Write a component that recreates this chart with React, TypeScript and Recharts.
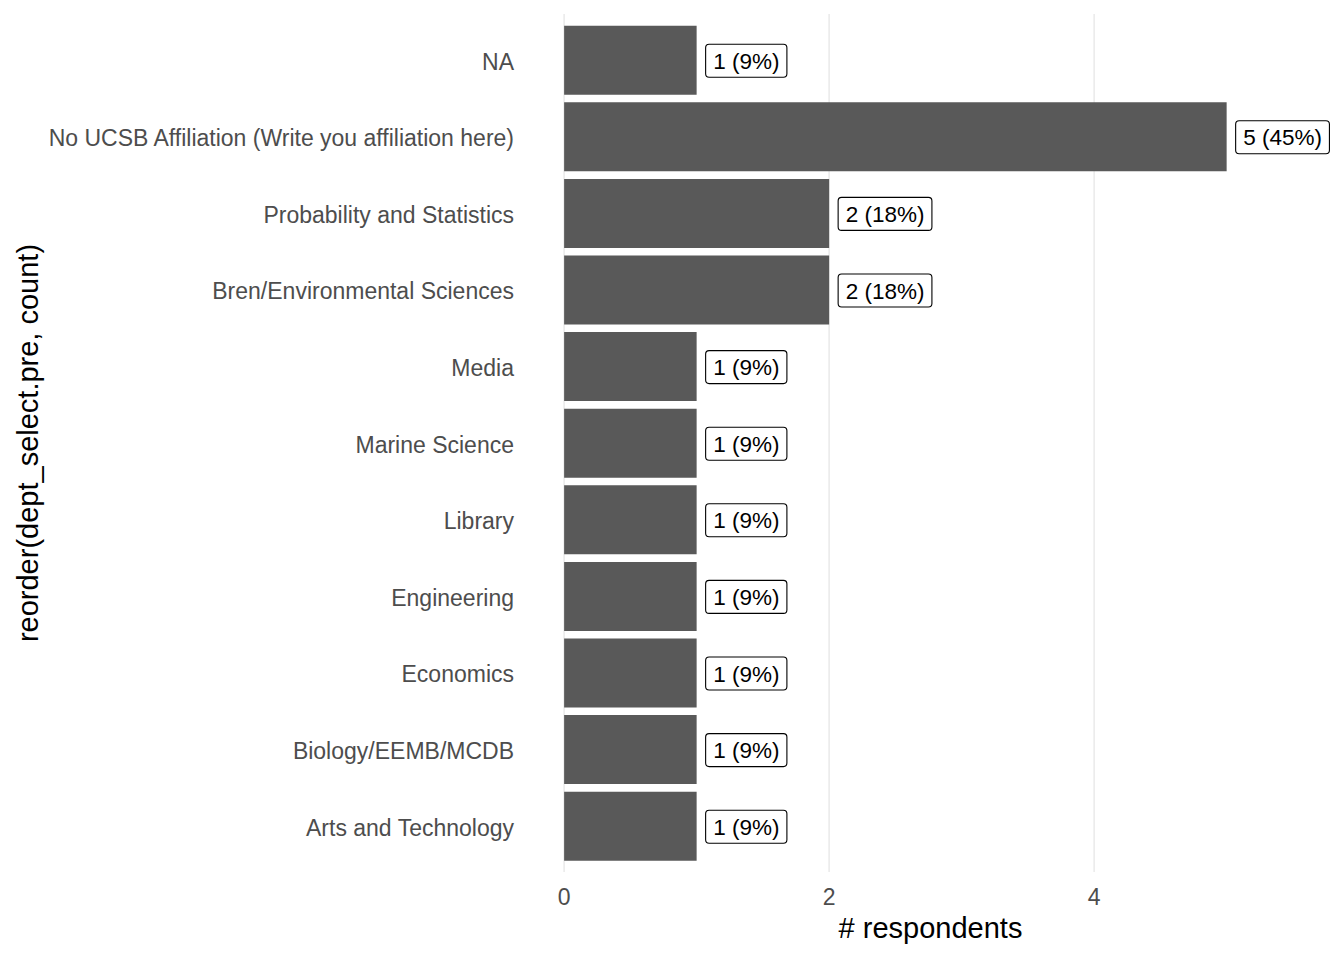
import React from 'react';
import { BarChart, Bar, XAxis, YAxis, CartesianGrid, LabelList } from 'recharts';

const categories = [
  'NA',
  'No UCSB Affiliation (Write you affiliation here)',
  'Probability and Statistics',
  'Bren/Environmental Sciences',
  'Media',
  'Marine Science',
  'Library',
  'Engineering',
  'Economics',
  'Biology/EEMB/MCDB',
  'Arts and Technology',
];
const counts = [1, 5, 2, 2, 1, 1, 1, 1, 1, 1, 1];
const percents = [9, 45, 18, 18, 9, 9, 9, 9, 9, 9, 9];
const xTicks = [0, 2, 4];
const X_DOMAIN: [number, number] = [-0.25, 5.78];

const data = categories.map((dept, i) => ({
  dept,
  count: counts[i],
  label: `${counts[i]} (${percents[i]}%)`,
}));

const FONT = "'Liberation Sans', Arial, Helvetica, sans-serif";
const W = 1344;
const H = 960;
const MARGIN = { top: 14, right: 14, left: 0, bottom: 0 };
const Y_AXIS_W = 531;
const X_AXIS_H = 88;
const LABEL_FONT = 22.5;

const CLIP = {
  x: MARGIN.left + Y_AXIS_W,
  y: MARGIN.top,
  width: W - MARGIN.left - MARGIN.right - Y_AXIS_W,
  height: H - MARGIN.top - MARGIN.bottom - X_AXIS_H,
};

let ctx: CanvasRenderingContext2D | null = null;
function measure(s: string): number {
  try {
    if (!ctx) {
      const c = document.createElement('canvas');
      ctx = c.getContext('2d');
    }
    if (ctx) {
      ctx.font = `${LABEL_FONT}px ${FONT}`;
      return ctx.measureText(s).width;
    }
  } catch (e) {
    // ignore
  }
  return s.length * LABEL_FONT * 0.5;
}

const gridX = (args: any) => {
  const xAxis = args && args.xAxis;
  const offset = (args && args.offset) || CLIP;
  return xTicks.map((t) => {
    if (xAxis && typeof xAxis.scale === 'function') {
      const v = xAxis.scale(t);
      if (Number.isFinite(v)) return v;
    }
    const left = offset.left != null ? offset.left : offset.x;
    return left + ((t - X_DOMAIN[0]) / (X_DOMAIN[1] - X_DOMAIN[0])) * offset.width;
  });
};

const BoxLabel = (props: any) => {
  const { x, y, width, height, value } = props;
  const left = Number(x) + Number(width) + 9;
  const cy = Number(y) + Number(height) / 2;
  const tw = measure(String(value));
  const padX = 7.5;
  const h = 33;
  return (
    <g clipPath="url(#panel-clip)">
      <rect
        x={left}
        y={cy - h / 2 + 0.5}
        width={tw + 2 * padX}
        height={h}
        rx={3.5}
        ry={3.5}
        fill="#ffffff"
        stroke="#000000"
        strokeWidth={1.1}
      />
      <text
        x={left + padX}
        y={cy + 0.5}
        dy="0.36em"
        fontSize={LABEL_FONT}
        fontFamily={FONT}
        fill="#000000"
      >
        {value}
      </text>
    </g>
  );
};

export default function App() {
  return (
    <div style={{ position: 'absolute', left: 0, top: 0, width: W, height: H, background: '#ffffff' }}>
      <svg width={0} height={0} style={{ position: 'absolute' }}>
        <defs>
          <clipPath id="panel-clip" clipPathUnits="userSpaceOnUse">
            <rect x={CLIP.x} y={CLIP.y} width={CLIP.width} height={CLIP.height} />
          </clipPath>
        </defs>
      </svg>
      <BarChart width={W} height={H} data={data} layout="vertical" margin={MARGIN}>
        <CartesianGrid
          horizontal={false}
          stroke="#ebebeb"
          strokeWidth={1.6}
          verticalCoordinatesGenerator={gridX}
        />
        <XAxis
          type="number"
          dataKey="count"
          domain={X_DOMAIN}
          allowDataOverflow
          ticks={xTicks}
          height={X_AXIS_H}
          axisLine={false}
          tickLine={false}
          tickSize={0}
          tickMargin={17}
          tick={{ fill: '#4d4d4d', fontSize: 23, fontFamily: FONT }}
          label={{
            value: '# respondents',
            position: 'insideBottom',
            offset: 22,
            fill: '#000000',
            fontSize: 29,
            fontFamily: FONT,
          }}
        />
        <YAxis
          type="category"
          dataKey="dept"
          width={Y_AXIS_W}
          interval={0}
          padding={{ top: 7.7, bottom: 7.7 }}
          axisLine={false}
          tickLine={false}
          tickSize={0}
          tickMargin={17}
          tick={{ fill: '#4d4d4d', fontSize: 23, fontFamily: FONT, dy: 1.5 }}
          label={{
            value: 'reorder(dept_select.pre, count)',
            angle: -90,
            position: 'insideLeft',
            offset: 28,
            fill: '#000000',
            fontSize: 29,
            fontFamily: FONT,
            style: { textAnchor: 'middle' },
          }}
        />
        <Bar dataKey="count" fill="#595959" barSize={69} isAnimationActive={false}>
          <LabelList dataKey="label" content={BoxLabel} />
        </Bar>
      </BarChart>
    </div>
  );
}
